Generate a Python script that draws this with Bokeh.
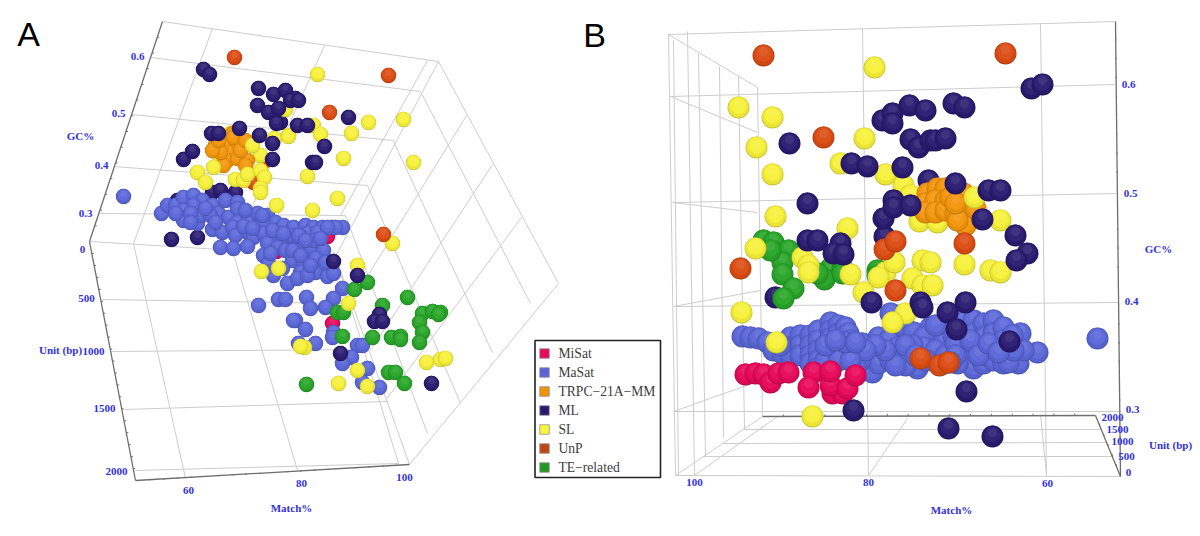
from bokeh.plotting import figure
from bokeh.models import Range1d
from bokeh.embed import file_html
from bokeh.resources import INLINE
from bokeh.core.properties import value

# ---- series colours / names
series_names = ["MiSat", "MaSat", "TRPC\u221221A\u2212MM", "ML", "SL", "UnP", "TE\u2212related"]
sphere = {"MiSat": (232, 8, 90), "MaSat": (90, 103, 216), "TRPC": (243, 150, 12), "ML": (42, 27, 112),
          "SL": (247, 241, 58), "UnP": (220, 76, 20), "TE": (40, 165, 40)}
swatch = ["#E60A5A", "#5A64D7", "#F0910A", "#28196E", "#FAF53C", "#BE4614", "#239623"]

# ---- panel A, points as read from the projected view
a_misat = [(276, 251), (327, 236), (332, 323)]
a_ml_back = [(177, 200), (171, 239), (197, 237), (212, 192), (220, 190), (235, 192), (280, 122)]
a_unp_back = [(265, 160), (253, 182)]
a_masat = [(123, 196), (161, 213), (167, 205), (175, 205), (183, 197), (193, 195), (202, 200), (193, 205), (183, 210),
           (183, 220), (197, 223), (200, 215), (212, 205), (218, 213), (225, 200), (237, 202), (228, 217), (237, 208),
           (237, 222), (212, 229), (222, 232), (232, 227), (248, 220), (257, 213), (267, 215), (275, 222), (262, 223),
           (247, 232), (253, 237), (235, 235), (220, 247), (233, 248), (247, 246), (263, 233), (275, 235), (283, 225),
           (293, 227), (305, 225), (313, 227), (322, 227), (332, 227), (342, 227), (307, 233), (317, 232), (283, 240),
           (293, 242), (303, 247), (310, 248), (323, 250), (267, 243), (277, 247), (263, 255), (268, 263), (285, 250),
           (292, 260), (303, 262), (300, 272), (315, 272), (327, 276), (333, 273), (287, 283), (273, 275), (297, 278),
           (307, 275), (258, 305), (278, 299), (285, 299), (306, 297), (342, 288), (333, 298), (310, 308), (325, 307),
           (295, 320), (305, 329), (298, 343), (315, 343), (333, 332), (332, 337), (357, 345), (362, 345), (351, 357),
           (342, 363), (367, 368), (362, 382), (379, 387), (293, 320), (210, 215), (190, 213), (175, 213), (300, 236),
           (335, 227), (327, 227), (245, 210), (205, 208), (215, 222), (190, 222), (243, 226), (252, 228), (262, 215),
           (272, 230), (290, 235), (298, 235), (313, 240), (283, 233), (270, 253), (292, 250), (300, 255), (315, 258),
           (325, 262), (310, 265), (282, 268), (320, 238), (305, 240)]
a_te = [(367, 282), (354, 289), (382, 305), (407, 297), (337, 312), (343, 312), (422, 313), (432, 311), (440, 312),
        (438, 314), (419, 322), (422, 332), (419, 342), (342, 336), (372, 337), (391, 337), (400, 336), (400, 339),
        (388, 372), (395, 372), (404, 383), (306, 384)]
a_sl_back = [(230, 133), (217, 153), (260, 155)]
a_trpc = [(215, 145), (228, 145), (237, 143), (232, 133), (233, 137), (228, 152), (227, 160), (237, 158), (247, 160),
          (223, 165), (220, 152), (212, 150), (240, 150), (245, 165), (218, 140), (245, 140)]
a_sl = [(252, 145), (197, 172), (213, 167), (205, 182), (235, 179), (243, 180), (247, 174), (260, 170), (264, 177),
        (260, 188), (260, 192), (276, 205), (274, 138), (288, 135), (285, 109), (288, 136), (313, 125), (320, 134),
        (351, 133), (368, 122), (403, 119), (317, 74), (343, 158), (413, 162), (307, 176), (337, 198), (312, 210),
        (392, 243), (357, 265), (261, 271), (278, 268), (348, 303), (304, 347), (357, 370), (367, 386), (338, 383),
        (426, 362), (440, 359), (445, 358), (300, 346)]
a_unp = [(234, 57), (388, 75), (329, 112), (383, 234)]
a_ml = [(203, 69), (209, 74), (258, 88), (257, 105), (273, 94), (285, 90), (295, 98), (290, 100), (298, 100), (268, 112),
        (278, 108), (276, 123), (297, 125), (211, 133), (218, 133), (239, 128), (259, 135), (272, 143), (183, 159),
        (192, 151), (272, 159), (307, 125), (348, 117), (324, 146), (312, 162), (315, 162), (333, 261), (357, 275),
        (379, 314), (374, 321), (382, 321), (340, 353), (431, 383)]

# ---- panel B, points as read from the projected view
b_ml_back = [(775, 297), (928, 180), (884, 236), (966, 391)]
b_te = [(763, 240), (773, 242), (778, 253), (788, 250), (782, 262), (770, 250), (830, 268), (842, 268), (824, 279),
        (817, 273), (842, 273), (877, 270), (877, 275), (782, 274), (793, 288), (783, 298)]
b_masat = [(1097, 338), (890, 313), (742, 336), (750, 337), (758, 338), (767, 342), (773, 350), (782, 353),
           (790, 337), (790, 347), (790, 355), (800, 335), (800, 345), (800, 355), (810, 335), (810, 345), (810, 355),
           (810, 363), (818, 330), (818, 340), (818, 350), (818, 360), (817, 368), (830, 322), (830, 330), (830, 338),
           (838, 325), (838, 333), (845, 327), (848, 333), (835, 350), (845, 352), (855, 352), (862, 343), (870, 353),
           (878, 337), (888, 340), (897, 347), (907, 355), (917, 368), (872, 372), (878, 363), (890, 360), (905, 328),
           (913, 332), (930, 327), (937, 337), (923, 337), (923, 347), (943, 343), (950, 323), (953, 335), (963, 320),
           (963, 333), (963, 347), (963, 360), (973, 320), (973, 333), (973, 347), (973, 360), (973, 368), (983, 323),
           (983, 337), (983, 350), (983, 363), (993, 320), (993, 333), (993, 347), (993, 360), (1003, 327), (1003, 340),
           (1003, 353), (1003, 363), (1020, 333), (1018, 363), (1008, 362), (1037, 352), (1023, 350), (943, 363),
           (957, 363), (930, 357), (912, 345), (935, 350), (950, 352), (905, 365), (850, 340), (860, 360),
           (905, 345), (935, 325), (945, 355), (925, 360), (915, 355), (855, 365), (825, 360), (838, 360), (895, 365),
           (885, 350), (875, 345), (865, 350), (850, 360), (1013, 350), (1012, 335), (955, 343), (955, 355), (970, 340),
           (978, 355), (988, 343), (998, 352), (950, 362), (845, 342), (855, 342), (780, 345), (825, 345), (835, 340)]
b_misat = [(813, 372), (745, 374), (755, 373), (763, 374), (770, 382), (778, 373), (788, 372), (808, 387), (832, 393),
           (842, 393), (830, 385), (847, 388), (830, 371), (855, 375)]
b_sl = [(874, 67), (738, 107), (772, 117), (756, 147), (864, 138), (772, 174), (840, 163), (885, 174), (775, 216),
        (847, 228), (903, 185), (910, 195), (919, 221), (937, 222), (1000, 220), (755, 248), (802, 257), (808, 265),
        (808, 272), (850, 274), (885, 272), (878, 277), (922, 260), (912, 278), (922, 285), (932, 285), (930, 262),
        (964, 264), (990, 270), (1000, 272), (863, 292), (741, 312), (905, 313), (892, 322), (776, 342), (812, 416)]
b_trpc = [(927, 193), (937, 188), (945, 188), (925, 203), (935, 200), (945, 200), (925, 212), (935, 212), (945, 210),
          (955, 213), (963, 193), (965, 208), (965, 225), (957, 220), (975, 208), (950, 197), (955, 203)]
b_sl_front = [(974, 197), (894, 262)]
b_ml = [(789, 143), (851, 163), (867, 166), (902, 167), (807, 203), (883, 218), (893, 200), (893, 207), (910, 205),
        (882, 120), (892, 113), (892, 123), (909, 105), (925, 110), (910, 139), (918, 147), (930, 140), (807, 240),
        (817, 240), (840, 243), (833, 253), (843, 254), (1031, 88), (1042, 84), (953, 103), (964, 107), (935, 140),
        (945, 138), (988, 190), (1000, 190), (955, 183), (982, 219), (1015, 235), (1027, 253), (1016, 260), (871, 302),
        (920, 302), (922, 307), (965, 302), (947, 312), (956, 329), (1009, 341), (853, 410), (948, 428), (992, 436)]
b_unp = [(763, 55), (1005, 53), (823, 137), (740, 268), (884, 249), (895, 241), (895, 290), (964, 243), (920, 358),
         (939, 365), (948, 362)]

a_layers = [("MiSat", a_misat), ("ML", a_ml_back), ("UnP", a_unp_back), ("MaSat", a_masat), ("TE", a_te),
            ("SL", a_sl_back), ("TRPC", a_trpc), ("SL", a_sl), ("UnP", a_unp), ("ML", a_ml)]
b_layers = [("ML", b_ml_back), ("TE", b_te), ("MaSat", b_masat), ("MiSat", b_misat), ("SL", b_sl), ("TRPC", b_trpc),
            ("SL", b_sl_front), ("ML", b_ml), ("UnP", b_unp)]

# ---- box drawings
a_grid = [((162, 21), (438, 61)), ((89, 241), (335, 256)), ((438, 61), (558, 283)), ((558, 283), (409, 464)),
          ((438, 61), (335, 256)), ((427, 60), (340, 215)), ((335, 256), (409, 464)), ((333, 250), (398, 463)),
          ((150, 57), (420, 91)), ((131, 114), (393, 140)), ((113, 166), (367, 185)), ((100, 213), (345, 215)),
          ((212, 28), (133, 243)), ((324, 45), (232, 250)),
          ((102, 299), (345, 303)), ((111, 351), (365, 349)), ((123, 409), (387, 401)), ((135, 470), (398, 463)),
          ((133, 243), (185, 478)), ((232, 250), (297, 470)),
          ((420, 91), (530, 303)), ((393, 141), (492, 352)), ((367, 185), (460, 403)), ((345, 215), (427, 433)),
          ((466, 115), (352, 300)), ((492, 164), (370, 350)), ((521, 217), (385, 400))]
a_axis = [((162, 21), (89, 241)), ((89, 241), (135, 480)), ((135, 480), (409, 464))]
b_grid = [((668, 34), (1115, 21)), ((668, 34), (757, 87)), ((668, 34), (675, 475)), ((673, 40), (678, 475)),
          ((687, 31), (694, 475)), ((698, 53), (705, 456)), ((719, 66), (723, 437)), ((738, 76), (744, 428)),
          ((757, 87), (762, 416)),
          ((670, 96), (1115, 84)), ((670, 96), (757, 132)), ((672, 202), (1116, 193)), ((672, 202), (757, 212)),
          ((673, 306), (1118, 302)), ((673, 306), (760, 290)), ((673, 411), (1120, 411)), ((673, 411), (760, 380)),
          ((675, 475), (1120, 476)), ((675, 475), (762, 416)), ((694, 475), (777, 416)), ((743, 429), (1100, 429)),
          ((723, 443), (1107, 442)), ((702, 456), (1113, 456)),
          ((862, 28), (868, 475)), ((868, 475), (907, 418)), ((1040, 23), (1046, 475)), ((1046, 475), (1040, 414))]
b_axis = [((1115, 21), (1120, 476)), ((762, 416), (1095, 415)), ((1095, 415), (1120, 476))]

# ---- tick labels
blue_labels = [("0.6", 137, 56), ("0.5", 118, 113), ("0.4", 101, 165), ("0.3", 85, 213), ("0", 82, 249), ("GC%", 80, 135),
               ("500", 86, 298), ("1000", 93, 351), ("1500", 104, 408), ("2000", 116, 471), ("Unit (bp)", 60, 349),
               ("60", 188, 490), ("80", 301, 483), ("100", 404, 477), ("Match%", 291, 507),
               ("100", 694, 482), ("80", 868, 482), ("60", 1047, 483), ("Match%", 951, 509),
               ("0.6", 1128, 84), ("0.5", 1130, 193), ("0.4", 1131, 301), ("0.3", 1132, 409), ("GC%", 1158, 248),
               ("2000", 1112, 417), ("1500", 1117, 429), ("1000", 1122, 441), ("500", 1126, 456), ("0", 1128, 472),
               ("Unit (bp)", 1170, 444)]
panel_letters = [("A", 28, 33), ("B", 594, 34)]
legend_y = [353, 372, 391, 410, 429, 448, 467]


def mix(c, t, f):
    return "#%02x%02x%02x" % tuple(int(round(a + (b - a) * f)) for a, b in zip(c, t))


def sphere_columns(layers, d):
    xs, ys, ss, cs = [], [], [], []
    for name, pts in layers:
        c = sphere[name]
        steps = [(1.00, 0.00, mix(c, (0, 0, 0), 0.20)),
                 (0.95, -0.02, mix(c, (0, 0, 0), 0.05)),
                 (0.74, -0.08, mix(c, (255, 255, 255), 0.03)),
                 (0.42, -0.18, mix(c, (255, 255, 255), 0.10))]
        for x, y in pts:
            for k, off, col in steps:
                xs.append(x)
                ys.append(y + off * d)
                ss.append(d * k)
                cs.append(col)
    return xs, ys, ss, cs


def segs(lines):
    return ([l[0][0] for l in lines], [l[0][1] for l in lines], [l[1][0] for l in lines], [l[1][1] for l in lines])


def ticks(edges, counts, nx, ny):
    out = []
    for (a, b), n in zip(edges, counts):
        for i in range(1, n):
            f = i / n
            x, y = a[0] + (b[0] - a[0]) * f, a[1] + (b[1] - a[1]) * f
            out.append(((x, y), (x + nx, y + ny)))
    return out


p = figure(width=1200, height=536, x_range=Range1d(0, 1200), y_range=Range1d(536, 0),
           output_backend="svg", toolbar_location=None, min_border=0, outline_line_color=None)
p.axis.visible = False
p.grid.visible = False

x0, y0, x1, y1 = segs(a_grid + b_grid)
p.segment(x0, y0, x1, y1, line_color="#cdcdcd", line_width=1)
x0, y0, x1, y1 = segs(a_axis + b_axis)
p.segment(x0, y0, x1, y1, line_color="#6e6e6e", line_width=1.3)
x0, y0, x1, y1 = segs(ticks(a_axis, [14, 20, 20], 2, 0) + ticks(b_axis, [24, 16, 6], 0, -2))
p.segment(x0, y0, x1, y1, line_color="#6e6e6e", line_width=1)

xs, ys, ss, cs = sphere_columns(a_layers, 15.5)
p.scatter(xs, ys, size=ss, fill_color=cs, line_color=None, marker="circle")
xs, ys, ss, cs = sphere_columns(b_layers, 22)
p.scatter(xs, ys, size=ss, fill_color=cs, line_color=None, marker="circle")

p.text([t[1] for t in blue_labels], [t[2] for t in blue_labels], text=[t[0] for t in blue_labels],
       text_font=value("Liberation Serif"), text_font_style="bold", text_font_size="11px", text_color="#3232DC",
       text_align="center", text_baseline="middle")
p.text([t[1] for t in panel_letters], [t[2] for t in panel_letters], text=[t[0] for t in panel_letters],
       text_font=value("Liberation Sans"), text_font_size="34px", text_color="#000000",
       text_align="center", text_baseline="middle")

# legend
p.quad(left=[534.5], right=[660], top=[340], bottom=[477], fill_color="white", line_color="#222222", line_width=1.6)
p.scatter([544] * 7, legend_y, size=9.5, marker="square", fill_color=swatch, line_color="#909090", line_width=0.8)
p.text([558] * 7, legend_y, text=series_names, text_font=value("Liberation Serif"), text_font_size="13.6px",
       text_color="#3c3c3c", text_align="left", text_baseline="middle")

open("out.html", "w").write(file_html(p, INLINE))
